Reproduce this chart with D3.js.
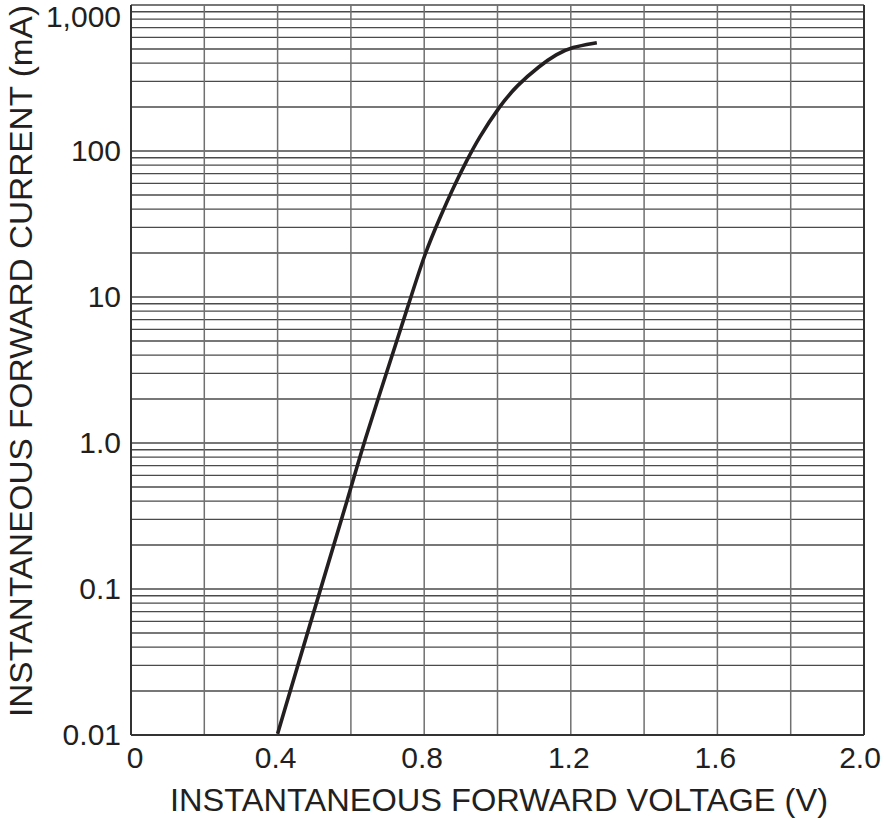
<!DOCTYPE html>
<html>
<head>
<meta charset="utf-8">
<script src="https://cdn.jsdelivr.net/npm/d3@7"></script>
<style>
  html, body { margin: 0; padding: 0; background: #fff; }
  svg { display: block; }
  text { font-family: "Liberation Sans", Arial, sans-serif; fill: #231f20; }
</style>
</head>
<body>
<svg id="chart" width="884" height="819"></svg>
<script>
// ---- data ----
const voltage = [0.40, 0.516, 0.598, 0.634, 0.707, 0.761, 0.802, 0.843, 0.879, 0.916, 0.948, 1.007, 1.052, 1.116, 1.161, 1.202, 1.271];
const current = [0.0102, 0.098, 0.47, 0.98, 3.6, 9.5, 20, 35, 56, 86, 122, 205, 280, 385, 460, 515, 552];
const xTicks = [0, 0.4, 0.8, 1.2, 1.6, 2.0];
const xTickLabels = ["0", "0.4", "0.8", "1.2", "1.6", "2.0"];
const xGrid = [0, 0.2, 0.4, 0.6, 0.8, 1.0, 1.2, 1.4, 1.6, 1.8, 2.0];
const yTicks = [0.01, 0.1, 1, 10, 100, 1000];
const yTickLabels = ["0.01", "0.1", "1.0", "10", "100", "1,000"];
const xTitle = "INSTANTANEOUS FORWARD VOLTAGE (V)";
const yTitle = "INSTANTANEOUS FORWARD CURRENT (mA)";

// ---- layout ----
const svg = d3.select("#chart");
const pLeft = 131, pRight = 864, pTop = 5, pBottom = 735;

const x = d3.scaleLinear().domain([0, 2.0]).range([pLeft, pRight]);
const y = d3.scaleLog().domain([0.01, 1000]).range([pBottom, pTop]);

// minor horizontal gridlines (1..9 x decade)
const hGrid = [];
for (let e = -2; e < 3; e++) {
  for (let m = 1; m < 10; m++) hGrid.push(m * Math.pow(10, e));
}
hGrid.push(1000);

const g = svg.append("g");

g.selectAll("line.h").data(hGrid).join("line")
  .attr("class", "h")
  .attr("x1", pLeft).attr("x2", pRight)
  .attr("y1", d => y(d)).attr("y2", d => y(d))
  .attr("stroke", "#4a4a4a").attr("stroke-width", 1.4);

g.selectAll("line.v").data(xGrid).join("line")
  .attr("class", "v")
  .attr("x1", d => x(d)).attr("x2", d => x(d))
  .attr("y1", pTop).attr("y2", pBottom)
  .attr("stroke", "#707070").attr("stroke-width", 1.5);

// frame
g.append("line").attr("x1", pLeft).attr("x2", pLeft).attr("y1", pTop).attr("y2", pBottom)
  .attr("stroke", "#333").attr("stroke-width", 2);
g.append("line").attr("x1", pLeft).attr("x2", pRight).attr("y1", pBottom).attr("y2", pBottom)
  .attr("stroke", "#333").attr("stroke-width", 2);
g.append("line").attr("x1", pRight).attr("x2", pRight).attr("y1", pTop).attr("y2", pBottom)
  .attr("stroke", "#333").attr("stroke-width", 2);

// curve
const pts = voltage.map((v, i) => [v, current[i]]);
g.append("path")
  .datum(pts)
  .attr("fill", "none")
  .attr("stroke", "#231f20")
  .attr("stroke-width", 3.6)
  .attr("stroke-linecap", "butt")
  .attr("d", d3.line().x(d => x(d[0])).y(d => y(d[1])).curve(d3.curveBasis));

// y tick labels
svg.selectAll("text.yt").data(yTicks).join("text")
  .attr("class", "yt")
  .attr("x", 121)
  .attr("y", d => Math.max(y(d) + 10, 27))
  .attr("text-anchor", "end")
  .attr("font-size", 30)
  .text((d, i) => yTickLabels[i]);

// x tick labels
svg.selectAll("text.xt").data(xTicks).join("text")
  .attr("class", "xt")
  .attr("x", (d, i) => x(d) + (i === 0 ? 4 : (i === xTicks.length - 1 ? -4 : -2)))
  .attr("y", 768)
  .attr("text-anchor", "middle")
  .attr("font-size", 30)
  .text((d, i) => xTickLabels[i]);

// axis titles
svg.append("text")
  .attr("x", 170).attr("y", 811)
  .attr("font-size", 31)
  .attr("textLength", 658)
  .attr("lengthAdjust", "spacingAndGlyphs")
  .text(xTitle);

svg.append("text")
  .attr("transform", "translate(32,717) rotate(-90)")
  .attr("font-size", 31)
  .attr("textLength", 712)
  .attr("lengthAdjust", "spacingAndGlyphs")
  .text(yTitle);
</script>
</body>
</html>
